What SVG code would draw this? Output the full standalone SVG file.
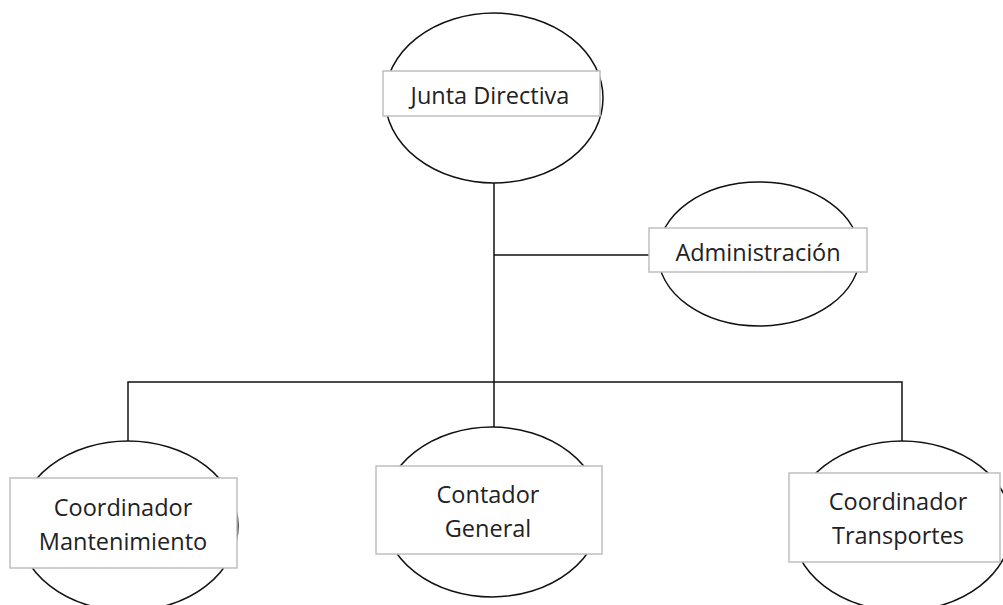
<svg xmlns="http://www.w3.org/2000/svg" width="1003" height="605" viewBox="0 0 1003 605">
<style>
.ell{fill:#fff;stroke:#111;stroke-width:1.5}
.box{fill:#fff;stroke:#bfbfbf;stroke-width:1.5}
.lbl{font-family:"Open Sans","Liberation Sans",sans-serif;font-size:23.5px;fill:#222;text-anchor:middle}
.con{fill:none;stroke:#111;stroke-width:1.5}
</style>
<rect width="1003" height="605" fill="#fff"/>
<g id="connectors">
<line class="con" x1="494" y1="183" x2="494" y2="382"/>
<line class="con" x1="494" y1="255" x2="649" y2="255"/>
<polyline class="con" points="128,441 128,382 902,382 902,441"/>
<line class="con" x1="494" y1="382" x2="494" y2="428"/>
</g>
<g id="junta">
<ellipse class="ell" cx="494" cy="98" rx="109" ry="85"/>
<rect class="box" x="383" y="71" width="217" height="45"/>
<text class="lbl" x="490" y="104">Junta Directiva</text>
</g>
<g id="administracion">
<ellipse class="ell" cx="759" cy="254" rx="101" ry="72"/>
<rect class="box" x="649" y="228" width="218" height="44"/>
<text class="lbl" x="758" y="261">Administración</text>
</g>
<g id="mantenimiento">
<ellipse class="ell" cx="128" cy="526" rx="110" ry="85"/>
<rect class="box" x="10" y="478" width="227" height="90"/>
<text class="lbl" x="123" y="516">Coordinador</text>
<text class="lbl" x="123" y="550">Mantenimiento</text>
</g>
<g id="contador">
<ellipse class="ell" cx="492" cy="512" rx="109" ry="85"/>
<rect class="box" x="376" y="466" width="226" height="88"/>
<text class="lbl" x="488" y="503">Contador</text>
<text class="lbl" x="488" y="537">General</text>
</g>
<g id="transportes">
<ellipse class="ell" cx="902" cy="526" rx="110" ry="85"/>
<rect class="box" x="789" y="473" width="211" height="89"/>
<text class="lbl" x="898" y="510">Coordinador</text>
<text class="lbl" x="898" y="544">Transportes</text>
</g>
</svg>
